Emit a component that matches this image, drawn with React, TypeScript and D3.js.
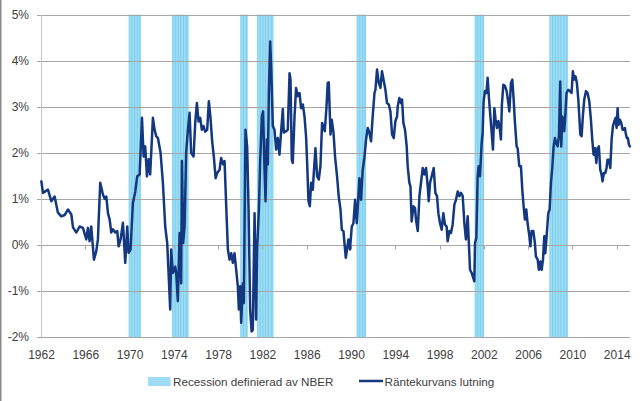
import React from 'react';
import * as d3 from 'd3';

// Decimal year of each reading of the yield-curve slope
const dates: number[] = [
  1962.03, 1962.18, 1962.63, 1962.93, 1963.23, 1963.53, 1963.83, 1964.14, 1964.44, 1964.74, 1964.89,
  1965.19, 1965.49, 1965.79, 1966.09, 1966.24, 1966.39, 1966.54, 1966.78, 1966.99, 1967.14, 1967.35,
  1967.6, 1967.75, 1967.9, 1968.05, 1968.2, 1968.35, 1968.5, 1968.71, 1968.89, 1969.01, 1969.19, 1969.4,
  1969.61, 1969.79, 1969.91, 1970.09, 1970.3, 1970.51, 1970.69, 1970.91, 1971.12, 1971.27, 1971.41,
  1971.57, 1971.72, 1971.86, 1972.11, 1972.26, 1972.41,
  1972.56, 1972.8, 1973.01, 1973.22, 1973.4, 1973.67, 1973.76, 1973.91, 1974.12, 1974.21, 1974.36,
  1974.52, 1974.66, 1974.73, 1974.84, 1974.97, 1975.11, 1975.27, 1975.42, 1975.56, 1975.78, 1975.93,
  1976.08, 1976.23, 1976.38, 1976.53, 1976.68, 1976.83, 1977.01, 1977.16, 1977.31, 1977.46, 1977.61,
  1977.77, 1977.91, 1978.13, 1978.27, 1978.45, 1978.58, 1978.73, 1978.88, 1979.03, 1979.18, 1979.33,
  1979.48, 1979.63, 1979.78, 1979.87, 1979.99, 1980.08, 1980.23, 1980.32, 1980.47, 1980.62, 1980.75,
  1980.89, 1981.02, 1981.13, 1981.29, 1981.43, 1981.52, 1981.68, 1981.79, 1981.95, 1982.06, 1982.19,
  1982.28, 1982.4, 1982.49, 1982.58, 1982.7, 1982.79, 1982.94, 1983.09, 1983.24,
  1983.39, 1983.54, 1983.69, 1983.84, 1983.93, 1984.14, 1984.29, 1984.45, 1984.54, 1984.65, 1984.74,
  1984.9, 1985.04, 1985.19, 1985.35, 1985.49, 1985.65, 1985.8, 1985.94, 1986.04, 1986.16, 1986.28,
  1986.4, 1986.55, 1986.64, 1986.79, 1986.94, 1987.09, 1987.24, 1987.39, 1987.54, 1987.63, 1987.78,
  1987.9, 1987.99, 1988.15, 1988.26, 1988.42, 1988.56, 1988.74, 1988.89, 1989.05, 1989.17, 1989.32,
  1989.41, 1989.53, 1989.64, 1989.77, 1989.91, 1990.07, 1990.22, 1990.37, 1990.52, 1990.67, 1990.76,
  1990.91, 1991.06, 1991.21, 1991.36, 1991.51, 1991.67, 1991.81, 1991.96, 1992.12, 1992.21, 1992.35,
  1992.51, 1992.66, 1992.8, 1992.96, 1993.11, 1993.25, 1993.41, 1993.56, 1993.71, 1993.86, 1994.01,
  1994.16,
  1994.22, 1994.37, 1994.52, 1994.61, 1994.73, 1994.88, 1995.03, 1995.12, 1995.27, 1995.37, 1995.48,
  1995.64, 1995.78, 1995.87, 1996.03, 1996.18, 1996.32, 1996.48, 1996.63, 1996.78, 1996.93, 1997.02,
  1997.14, 1997.29, 1997.47, 1997.62, 1997.77, 1997.89, 1998.04, 1998.19, 1998.34, 1998.49, 1998.64,
  1998.73, 1998.89, 1999.03, 1999.18, 1999.34, 1999.48, 1999.64, 1999.79, 1999.93, 2000.09, 2000.24,
  2000.38, 2000.54, 2000.63, 2000.75, 2000.9, 2001.05, 2001.14, 2001.2, 2001.32, 2001.44, 2001.53,
  2001.65, 2001.8, 2001.89, 2001.98, 2002.1, 2002.23, 2002.34, 2002.46, 2002.59, 2002.73, 2002.82,
  2002.95, 2003.06, 2003.18, 2003.31, 2003.43, 2003.54, 2003.63, 2003.76, 2003.91, 2004.06, 2004.21,
  2004.3, 2004.45, 2004.57, 2004.69, 2004.81, 2004.96,
  2005.05, 2005.2, 2005.35, 2005.47, 2005.59, 2005.71, 2005.83, 2005.95, 2006.11, 2006.2, 2006.31,
  2006.47, 2006.61, 2006.7, 2006.86, 2006.97, 2007.1, 2007.22, 2007.34, 2007.46, 2007.55, 2007.67,
  2007.82, 2007.94, 2008.06, 2008.18, 2008.3, 2008.42, 2008.54, 2008.66, 2008.78, 2008.9, 2008.99,
  2009.08, 2009.17, 2009.26, 2009.35, 2009.47, 2009.62, 2009.77, 2009.92, 2010.04, 2010.16, 2010.28,
  2010.4, 2010.53, 2010.62, 2010.71, 2010.83, 2010.94, 2011.07, 2011.22, 2011.37, 2011.52, 2011.67,
  2011.79, 2011.91, 2012.03, 2012.16, 2012.27, 2012.39, 2012.51, 2012.63, 2012.72, 2012.84, 2012.97,
  2013.08, 2013.17, 2013.29, 2013.42, 2013.54, 2013.66, 2013.79, 2013.9, 2013.99, 2014.08, 2014.17,
  2014.29, 2014.41, 2014.53, 2014.62, 2014.74, 2014.83, 2014.92, 2015.01, 2015.1, 2015.19,
];

// Slope of the yield curve, percent
const slope: number[] = [
  1.38, 1.13, 1.2, 0.95, 1.05, 0.7, 0.62, 0.65, 0.77, 0.66, 0.38,
  0.27, 0.4, 0.37, 0.12, 0.37, 0.08, 0.4, -0.32, -0.14, 0.12, 1.35,
  1.09, 1.0, 1.05, 0.69, 0.55, 0.27, 0.34, 0.27, 0.3, -0.03, 0.12, 0.48,
  -0.39, 0.4, -0.17, -0.1, 0.91, 1.15, 1.49, 1.53, 2.76, 1.92, 2.14,
  1.49, 1.86, 1.53, 2.76, 2.5, 2.36,
  2.32, 2.0, 1.35, 0.4, 0.04, -1.4, -0.1, -0.61, -0.47, -0.61, -1.22,
  0.26, -0.83, 1.82, 0.04, 0.4, 2.0, 2.5, 2.87, 2.0, 1.92, 2.65,
  3.08, 2.68, 2.76, 2.5, 2.58, 2.46, 2.5, 3.12, 2.76, 2.25, 1.92,
  1.45, 1.56, 1.63, 1.89, 1.75, 1.82, 0.84, -0.1, -0.32, -0.18, -0.39,
  -0.18, -0.54, -0.9, -1.4, -0.9, -1.69, -0.83, -1.26, 2.5, 2.14, 0.77,
  -1.4, -1.88, -1.85, 0.69, -1.62, -0.1, 0.77, 1.78, 2.79, 2.9, 1.63,
  0.95, 2.29, 1.75, 3.3, 4.42, 3.88, 2.58, 2.5, 2.07,
  2.32, 1.96, 2.47, 2.95, 2.44, 2.47, 2.5, 3.73, 3.59, 1.85, 1.78,
  2.79, 3.41, 3.23, 3.3, 2.97, 3.05, 2.79, 2.36, 1.78, 0.95, 0.84,
  1.35, 1.2, 1.56, 2.1, 1.49, 1.42, 1.71, 2.65, 2.54, 2.47, 2.97,
  3.52, 3.53, 2.4, 2.72, 2.44, 1.92, 1.49, 1.06, 0.77, 0.33, 0.3,
  0.04, -0.28, -0.1, 0.12, -0.1, 0.4, 0.47, 0.98, 0.47, 1.06, 1.45,
  0.98, 1.64, 1.89, 2.29, 2.54, 2.43, 2.25, 2.79, 3.3, 3.37, 3.81,
  3.52, 3.41, 3.77, 3.56, 3.37, 3.08, 3.05, 2.9, 2.4, 2.32, 2.69,
  2.79,
  3.01, 3.19, 3.08, 3.16, 2.65, 2.5, 2.14, 1.71, 1.35, 1.27, 0.51,
  0.84, 0.8, 0.55, 0.3, 1.06, 1.35, 1.67, 1.53, 1.67, 1.27, 0.95,
  1.35, 1.49, 1.67, 1.13, 1.06, 0.69, 0.47, 0.33, 0.69, 0.44, 0.4,
  0.08, 0.3, 0.26, 0.44, 0.88, 0.98, 1.16, 1.06, 1.13, 1.06, 0.47,
  0.12, 0.62, 0.12, -0.54, -0.61, -0.72, -0.79, 0.04, 0.15, 1.49, 1.71,
  1.49, 2.21, 2.43, 3.12, 3.34, 3.3, 3.63, 3.19, 2.79, 2.36, 2.07,
  2.97, 2.72, 2.54, 2.69, 2.54, 2.29, 3.05, 3.48, 3.45, 3.34, 3.08,
  2.9, 3.52, 3.59, 3.16, 2.65, 2.14,
  2.1, 1.71, 1.71, 1.2, 0.84, 0.55, 0.77, 0.47, 0.19, -0.03, 0.3,
  0.3, 0.04, -0.25, -0.32, -0.54, -0.36, -0.54, -0.32, 0.19, -0.18, 0.19,
  0.69, 0.77, 1.35, 1.67, 2.14, 2.32, 2.21, 2.14, 2.36, 3.55, 2.14,
  2.79, 2.72, 2.47, 2.79, 3.3, 3.37, 3.34, 3.3, 3.77, 3.59, 3.66,
  3.52, 3.16, 2.79, 2.4, 2.36, 2.79, 3.16, 3.34, 3.3, 3.12, 2.72,
  2.29, 1.96, 2.1, 1.78, 2.1, 2.14, 1.64, 1.53, 1.38, 1.56, 1.56,
  1.67, 1.85, 1.85, 1.67, 2.29, 2.58, 2.69, 2.76, 2.54, 2.97, 2.61,
  2.72, 2.65, 2.5, 2.5, 2.54, 2.4, 2.32, 2.32, 2.18, 2.14,
];

// NBER recessions [start year, start month, end year, end month]
const recessions: number[][] = [
  [1969, 12, 1970, 11],
  [1973, 11, 1975, 3],
  [1980, 1, 1980, 7],
  [1981, 7, 1982, 11],
  [1990, 7, 1991, 3],
  [2001, 3, 2001, 11],
  [2007, 12, 2009, 6],
];

const yTicks: number[] = [-2, -1, 0, 1, 2, 3, 4, 5];
const xTicks: number[] = [1962, 1966, 1970, 1974, 1978, 1982, 1986, 1990, 1994, 1998, 2002, 2006, 2010, 2014];
const legendLabels: string[] = ['Recession definierad av NBER', 'Räntekurvans lutning'];

const FONT = '"Liberation Sans", Arial, sans-serif';
const LINE_COLOR = '#14387f';
const BAND_COLOR = '#9edcf3';
const BAND_LINE = '#74cdee';

export default function App() {
  const W = 643;
  const H = 401;
  const x = d3.scaleLinear().domain([1962, 2015.2]).range([41, 630]);
  const y = d3.scaleLinear().domain([-2, 5]).range([337, 14.7]);

  const pts: [number, number][] = dates.map((d, i) => [d, slope[i]]);
  const linePath = d3
    .line<[number, number]>()
    .x((d) => x(d[0]))
    .y((d) => y(d[1]))(pts) as string;

  const bands = recessions.map((r) => {
    const s = r[0] + (r[1] - 1) / 12 + 0.04;
    const e = r[2] + r[3] / 12 + 0.04;
    const nMonths = Math.round((e - s) * 12);
    const inner: number[] = [];
    for (let m = 0; m <= nMonths; m += 3) inner.push(s + m / 12);
    inner.push(e);
    return { s, e, inner };
  });

  const y0 = y(5);
  const y1 = y(-2);

  return (
    <svg
      width={W}
      height={H}
      style={{ position: 'absolute', left: 0, top: 0, background: '#fff' }}
      fontFamily={FONT}
    >
      <rect x={0} y={0} width={W} height={H} fill="#fff" />
      <line x1={0.75} y1={0} x2={0.75} y2={H} stroke="#8a8a8a" strokeWidth={1.5} />

      {/* recession bands */}
      {bands.map((b, i) => (
        <g key={i}>
          <rect x={x(b.s)} y={y0} width={x(b.e) - x(b.s)} height={y1 - y0} fill={BAND_COLOR} />
          {b.inner.map((t, j) => (
            <line key={j} x1={x(t)} x2={x(t)} y1={y0} y2={y1} stroke={BAND_LINE} strokeWidth={0.8} />
          ))}
        </g>
      ))}

      {/* gridlines */}
      {yTicks.map((t) => (
        <line
          key={t}
          x1={37}
          x2={630}
          y1={Math.round(y(t)) + 0.5}
          y2={Math.round(y(t)) + 0.5}
          stroke="#a6a6a6"
          strokeWidth={1}
        />
      ))}
      {/* vertical axis */}
      <line x1={41.5} x2={41.5} y1={y0} y2={y1} stroke="#c6c6c6" strokeWidth={1} />
      {/* x ticks at zero line */}
      {xTicks.map((t) => (
        <line
          key={t}
          x1={Math.round(x(t)) + 0.5}
          x2={Math.round(x(t)) + 0.5}
          y1={Math.round(y(0)) + 0.5}
          y2={Math.round(y(0)) + 4.5}
          stroke="#a6a6a6"
          strokeWidth={1}
        />
      ))}

      {/* y labels */}
      {yTicks.map((t) => (
        <text key={t} x={29} y={y(t)} dy="0.35em" textAnchor="end" fontSize={12} fill="#404040">
          {`${t}%`}
        </text>
      ))}
      {/* x labels */}
      {xTicks.map((t) => (
        <text key={t} x={x(t) + 0.5} y={358.5} textAnchor="middle" fontSize={12} fill="#404040">
          {t}
        </text>
      ))}

      {/* series */}
      <path d={linePath} fill="none" stroke={LINE_COLOR} strokeWidth={2.5} strokeLinejoin="round" strokeLinecap="round" />

      {/* legend */}
      <rect x={148} y={377} width={22.5} height={9} fill={BAND_COLOR} />
      <text x={173} y={385.5} fontSize={11.7} fill="#404040">
        {legendLabels[0]}
      </text>
      <line x1={359} x2={383} y1={381} y2={381} stroke={LINE_COLOR} strokeWidth={2.5} />
      <text x={384.5} y={385.5} fontSize={11.7} fill="#404040">
        {legendLabels[1]}
      </text>
    </svg>
  );
}
